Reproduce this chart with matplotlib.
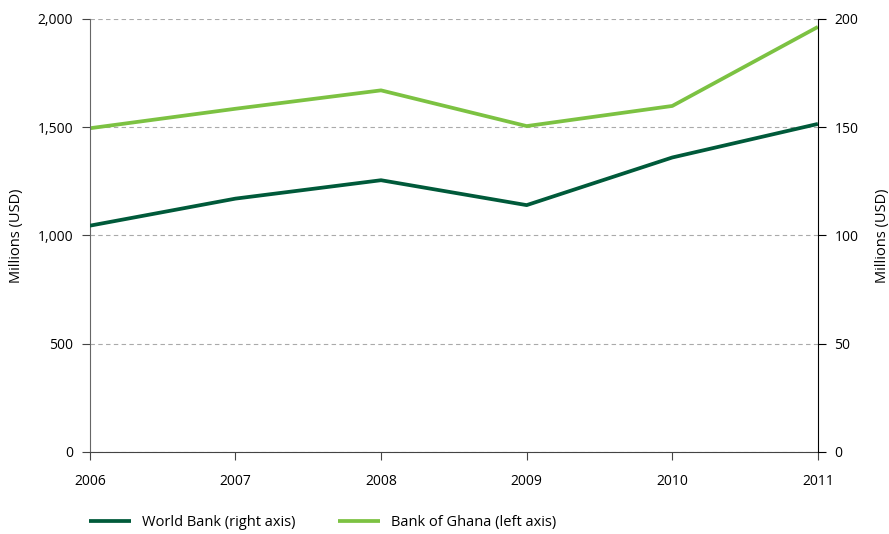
import matplotlib.pyplot as plt
from matplotlib.ticker import FuncFormatter

plt.rcParams['font.family'] = ['Open Sans', 'DejaVu Sans']

years = [2006, 2007, 2008, 2009, 2010, 2011]
bank_of_ghana = [1495, 1585, 1670, 1505, 1598, 1963]   # left axis
world_bank = [104.5, 117, 125.5, 114, 136, 151.5]      # right axis

dark_green = '#005a3a'
light_green = '#7cc242'

fig = plt.figure(figsize=(8.89, 5.34), dpi=100)
ax = fig.add_axes([0.101, 0.1536, 0.819, 0.811])
ax2 = ax.twinx()

l2, = ax.plot(years, bank_of_ghana, color=light_green, lw=2.7, solid_capstyle='butt',
              label='Bank of Ghana (left axis)')
l1, = ax2.plot(years, world_bank, color=dark_green, lw=2.7, solid_capstyle='butt',
               label='World Bank (right axis)')

ax.set_xlim(2006, 2011)
ax.set_ylim(0, 2000)
ax2.set_ylim(0, 200)
ax.set_xticks(years)
ax.set_yticks([0, 500, 1000, 1500, 2000])
ax2.set_yticks([0, 50, 100, 150, 200])
ax.yaxis.set_major_formatter(FuncFormatter(lambda v, p: f'{int(v):,}'))

ax.grid(axis='y', color='#aaaaaa', ls=(0, (4, 3)), lw=0.8)
ax.set_axisbelow(True)

for a in (ax, ax2):
    a.spines['top'].set_visible(False)
ax.spines['right'].set_visible(False)
ax.spines['left'].set_color('#666666')
ax.spines['bottom'].set_color('#444444')
ax2.spines['left'].set_visible(False)
ax2.spines['bottom'].set_visible(False)
ax2.spines['right'].set_color('black')

ax.tick_params(axis='y', length=6, color='#444444', labelsize=10, pad=6)
ax.tick_params(axis='x', length=6, color='#444444', labelsize=10, pad=10)
ax2.tick_params(axis='y', length=6, color='black', labelsize=10, pad=6)

ax.set_ylabel('Millions (USD)', fontsize=10.5, labelpad=10)
ax2.set_ylabel('Millions (USD)', fontsize=10.5, rotation=90, labelpad=12)

fig.legend(handles=[l1, l2], loc='lower left', bbox_to_anchor=(0.085, -0.017), ncol=2,
           frameon=False, fontsize=10.5, handlelength=2.9, handletextpad=0.75,
           columnspacing=2.9)

fig.savefig('out.png', dpi=100)
